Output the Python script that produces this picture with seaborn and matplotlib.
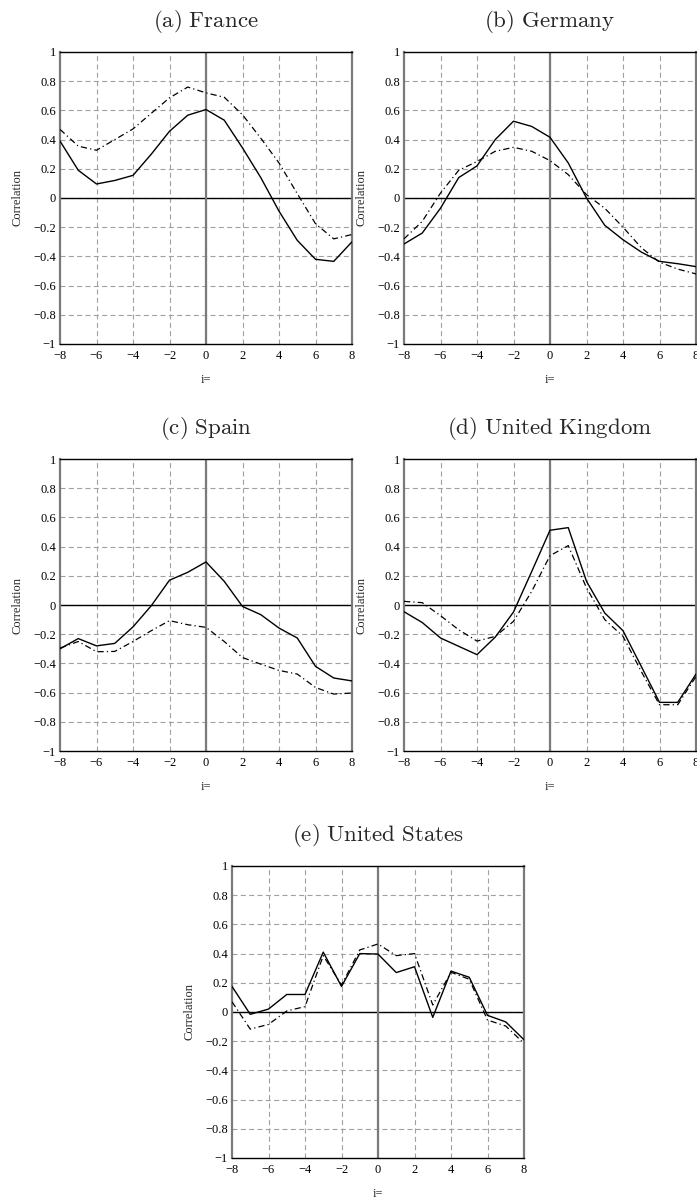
import numpy as np
import pandas as pd
import matplotlib
matplotlib.use('Agg')
import matplotlib.pyplot as plt
import seaborn as sns

# lags
lags = list(range(-8, 9))

# (a) France
france_solid = [0.39, 0.19, 0.096, 0.12, 0.155, 0.30, 0.457, 0.567, 0.606, 0.533,
                0.343, 0.14, -0.09, -0.29, -0.42, -0.434, -0.30]
france_dash = [0.47, 0.355, 0.327, 0.40, 0.473, 0.58, 0.686, 0.76, 0.72, 0.69,
               0.57, 0.41, 0.24, 0.03, -0.176, -0.28, -0.25]

# (b) Germany
germany_solid = [-0.315, -0.24, -0.07, 0.14, 0.22, 0.40, 0.526, 0.49, 0.416, 0.24,
                 0.0, -0.187, -0.286, -0.37, -0.434, -0.45, -0.47]
germany_dash = [-0.28, -0.16, 0.034, 0.19, 0.25, 0.32, 0.347, 0.32, 0.256, 0.16,
                0.023, -0.07, -0.2, -0.34, -0.44, -0.487, -0.52]

# (c) Spain
spain_solid = [-0.30, -0.23, -0.28, -0.263, -0.15, -0.005, 0.17, 0.224, 0.295, 0.162,
               -0.01, -0.066, -0.158, -0.226, -0.42, -0.50, -0.52]
spain_dash = [-0.295, -0.25, -0.32, -0.318, -0.25, -0.176, -0.107, -0.135, -0.153, -0.25,
              -0.36, -0.405, -0.448, -0.473, -0.565, -0.61, -0.603]

# (d) United Kingdom
uk_solid = [-0.046, -0.12, -0.226, -0.283, -0.34, -0.22, -0.048, 0.23, 0.512, 0.53,
            0.162, -0.055, -0.176, -0.42, -0.667, -0.667, -0.473]
uk_dash = [0.025, 0.016, -0.073, -0.17, -0.247, -0.215, -0.112, 0.094, 0.338, 0.407,
           0.117, -0.10, -0.215, -0.455, -0.683, -0.683, -0.49]

# (e) United States
us_solid = [0.175, -0.016, 0.02, 0.12, 0.12, 0.41, 0.175, 0.40, 0.397, 0.27,
            0.31, -0.037, 0.28, 0.238, -0.023, -0.068, -0.19]
us_dash = [0.07, -0.117, -0.085, 0.007, 0.037, 0.386, 0.185, 0.425, 0.466, 0.386,
           0.40, 0.048, 0.272, 0.224, -0.055, -0.096, -0.215]

titles = ['(a)\\ France', '(b)\\ Germany', '(c)\\ Spain',
          '(d)\\ United\\ Kingdom', '(e)\\ United\\ States']
series = [(france_solid, france_dash), (germany_solid, germany_dash),
          (spain_solid, spain_dash), (uk_solid, uk_dash), (us_solid, us_dash)]

yticks = np.round(np.arange(-1, 1.01, 0.2), 1)
ytick_labels = ['\u22121', '\u22120.8', '\u22120.6', '\u22120.4', '\u22120.2',
                '0', '0.2', '0.4', '0.6', '0.8', '1']
xticks = list(range(-8, 9, 2))
xtick_labels = [('\u2212%d' % -v) if v < 0 else '%d' % v for v in xticks]

sns.set_theme(style='white')
plt.rcParams['font.family'] = ['Liberation Serif', 'DejaVu Serif']
plt.rcParams['mathtext.fontset'] = 'cm'

fig = plt.figure(figsize=(6.97, 11.98), dpi=100)

W, H = 697., 1198.
boxes = [(60, 52), (404, 52), (60, 459), (404, 459), (232, 866)]
size = 292

grey = '#7a7a7a'

for (left, top), title, (solid, dash) in zip(boxes, titles, series):
    ax = fig.add_axes([left / W, 1 - (top + size) / H, size / W, size / H])
    df = pd.DataFrame({'lag': lags, 'solid': solid, 'dash': dash})

    # grid
    for v in yticks[1:-1]:
        ax.axhline(v, color='#a0a0a0', lw=0.8, ls=(0, (4.5, 3)), zorder=1)
    for v in xticks[1:-1]:
        ax.axvline(v, color='#a0a0a0', lw=0.8, ls=(0, (4.5, 3)), zorder=1)
    ax.axhline(0, color='black', lw=1.0, zorder=2)
    ax.axvline(0, color=grey, lw=1.6, zorder=2)

    sns.lineplot(data=df, x='lag', y='solid', ax=ax, color='black', lw=1.0, zorder=3)
    sns.lineplot(data=df, x='lag', y='dash', ax=ax, color='black', lw=0.9,
                 ls=(0, (5, 2.5, 1, 2.5)), zorder=3)

    ax.set_xlim(-8, 8)
    ax.set_ylim(-1, 1)
    ax.set_xticks(xticks)
    ax.set_xticklabels(xtick_labels)
    ax.set_yticks(yticks)
    ax.set_yticklabels(ytick_labels)
    ax.tick_params(axis='both', direction='in', length=3, width=0.8, labelsize=9,
                   pad=3, colors='black')
    ax.tick_params(axis='x', pad=4)
    ax.tick_params(axis='y', length=0)

    for side in ['top', 'bottom']:
        ax.spines[side].set_color('black')
        ax.spines[side].set_linewidth(1.0)
    for side in ['left', 'right']:
        ax.spines[side].set_color(grey)
        ax.spines[side].set_linewidth(1.6)

    ax.set_xlabel('i=', fontsize=9, labelpad=9)
    ax.set_ylabel('Correlation', fontsize=9, labelpad=7)
    ax.set_title('$\\mathrm{' + title + '}$', fontsize=16.5, pad=18)

fig.savefig('out.png', dpi=100, facecolor='white')
